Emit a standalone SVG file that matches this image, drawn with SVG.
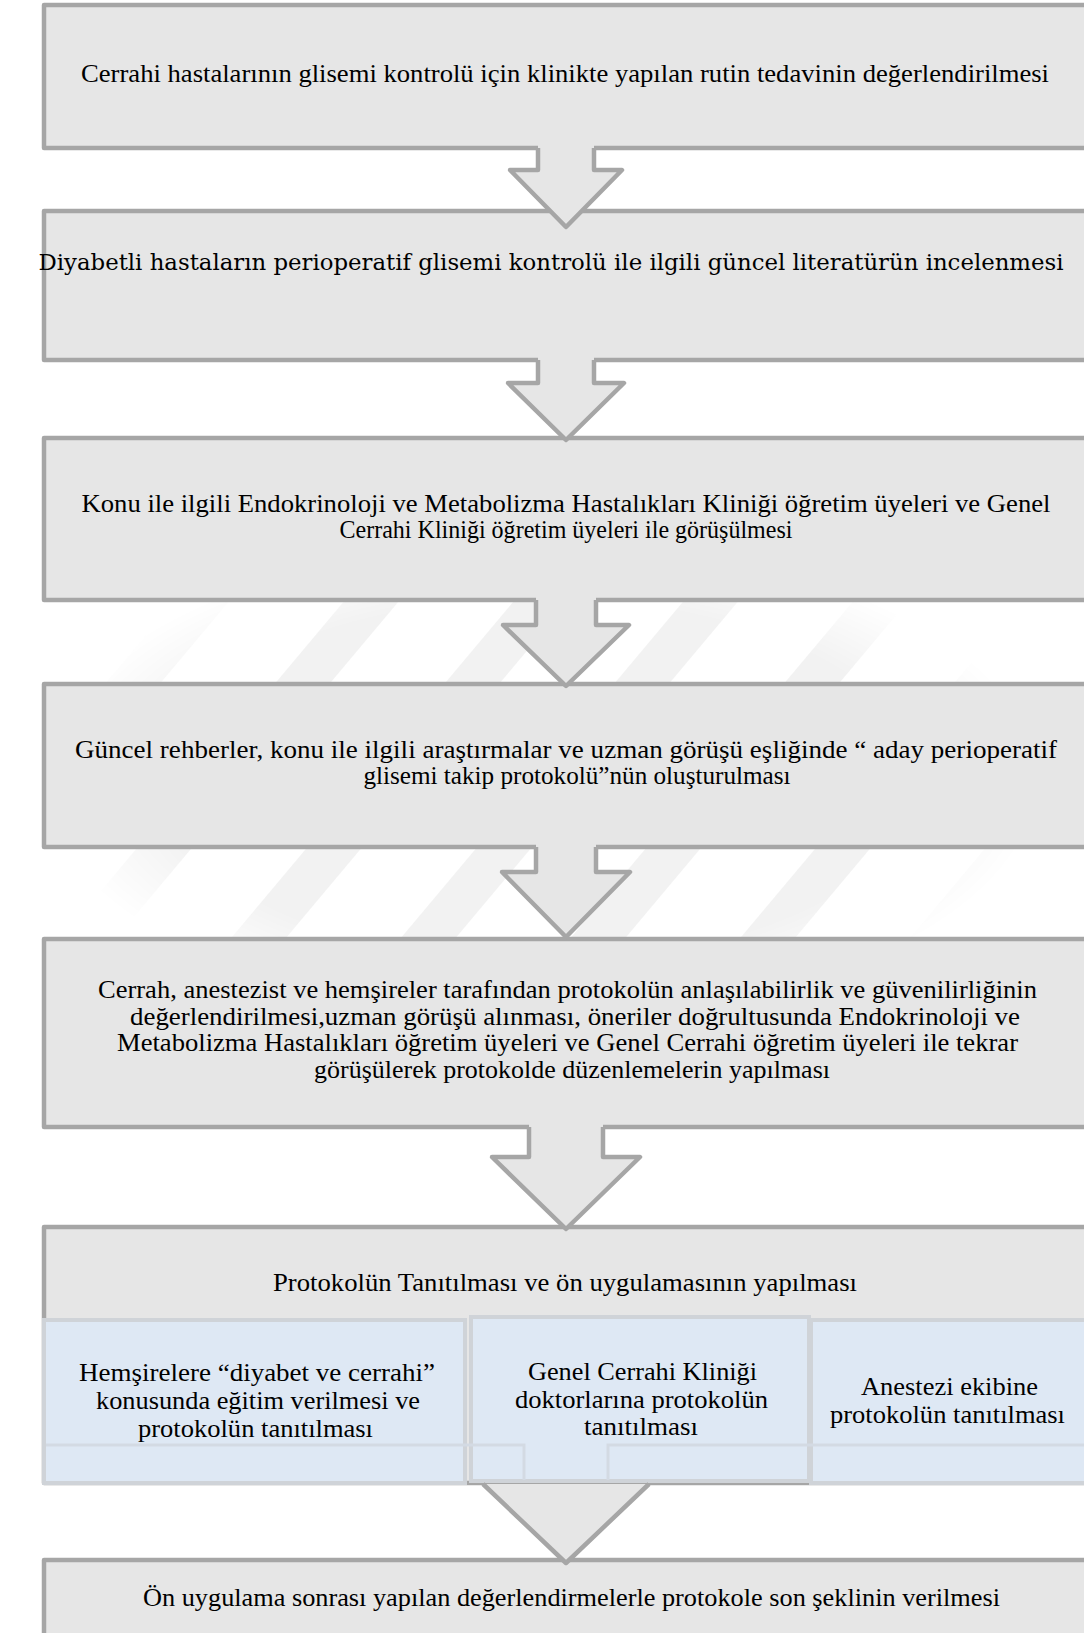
<svg xmlns="http://www.w3.org/2000/svg" width="1084" height="1633" viewBox="0 0 1084 1633">
  <defs>
    <pattern id="wm" patternUnits="userSpaceOnUse" width="130" height="130" patternTransform="rotate(40)">
      <rect x="0" y="0" width="42" height="130" fill="#f2f2f2"/>
    </pattern>
    <radialGradient id="wmfade" cx="0.5" cy="0.5" r="0.5">
      <stop offset="0" stop-color="#fff"/>
      <stop offset="0.75" stop-color="#fff"/>
      <stop offset="1" stop-color="#000"/>
    </radialGradient>
    <mask id="wmmask" maskUnits="userSpaceOnUse" x="40" y="540" width="1000" height="480">
      <rect x="40" y="540" width="1000" height="480" fill="url(#wmfade)"/>
    </mask>
    <style>
      .box { fill:#e6e6e6; stroke:#a6a6a6; stroke-width:4.5; stroke-linejoin:round; }
      .afill { fill:#e6e6e6; stroke:none; }
      .aline { fill:none; stroke:#a6a6a6; stroke-width:4.5; stroke-linejoin:round; }
      .sub { fill:#dee8f4; stroke:#cfd3d8; stroke-width:4; }
      .ghost { fill:none; stroke:#d3dae3; stroke-width:3; }
      .t { font-family:"Liberation Serif","Times New Roman",serif; font-size:24.5px; fill:#000; text-anchor:middle; }
      .ts { font-family:"Liberation Serif","Times New Roman",serif; font-size:25px; fill:#000; text-anchor:middle; }
      .tc { font-family:"DejaVu Serif","Liberation Serif",serif; font-size:21.5px; fill:#000; text-anchor:middle; }
    </style>
  </defs>
  <rect width="1084" height="1633" fill="#ffffff"/>
  <rect x="40" y="540" width="1000" height="480" fill="url(#wm)" mask="url(#wmmask)"/>

  <g id="nodes">
    <g id="node1">
      <rect class="box" x="44" y="5" width="1044" height="143"/>
      <text class="t" x="565" y="82" textLength="968" lengthAdjust="spacingAndGlyphs">Cerrahi hastalarının glisemi kontrolü için klinikte yapılan rutin tedavinin değerlendirilmesi</text>
    </g>
    <g id="node2">
      <rect class="box" x="44" y="211" width="1044" height="149"/>
      <text class="tc" x="551" y="270" textLength="1025" lengthAdjust="spacingAndGlyphs">Diyabetli hastaların perioperatif glisemi kontrolü ile ilgili güncel literatürün incelenmesi</text>
    </g>
    <g id="node3">
      <rect class="box" x="44" y="438" width="1044" height="162"/>
      <text class="t" x="566" y="512" textLength="969" lengthAdjust="spacingAndGlyphs">Konu ile ilgili Endokrinoloji ve Metabolizma Hastalıkları Kliniği öğretim üyeleri ve Genel</text>
      <text class="t" x="566" y="538" textLength="453" lengthAdjust="spacingAndGlyphs">Cerrahi Kliniği öğretim üyeleri ile görüşülmesi</text>
    </g>
    <g id="node4">
      <rect class="box" x="44" y="684" width="1044" height="163"/>
      <text class="t" x="566" y="758" textLength="982" lengthAdjust="spacingAndGlyphs">Güncel rehberler,  konu ile ilgili araştırmalar ve uzman görüşü eşliğinde  “ aday perioperatif</text>
      <text class="t" x="577" y="784" textLength="427" lengthAdjust="spacingAndGlyphs">glisemi takip protokolü”nün oluşturulması</text>
    </g>
    <g id="node5">
      <rect class="box" x="44" y="939" width="1044" height="188"/>
      <text class="t" x="567.5" y="998" textLength="939" lengthAdjust="spacingAndGlyphs">Cerrah, anestezist ve hemşireler tarafından protokolün anlaşılabilirlik ve güvenilirliğinin</text>
      <text class="t" x="575" y="1024.5" textLength="890" lengthAdjust="spacingAndGlyphs">değerlendirilmesi,uzman görüşü alınması, öneriler doğrultusunda Endokrinoloji ve</text>
      <text class="t" x="567.5" y="1051" textLength="901" lengthAdjust="spacingAndGlyphs">Metabolizma Hastalıkları öğretim üyeleri ve Genel Cerrahi öğretim üyeleri ile tekrar</text>
      <text class="t" x="572" y="1077.5" textLength="516" lengthAdjust="spacingAndGlyphs">görüşülerek protokolde düzenlemelerin yapılması</text>
    </g>
    <g id="node6">
      <rect class="box" x="44" y="1227" width="1044" height="256"/>
      <text class="t" x="565" y="1291" textLength="584" lengthAdjust="spacingAndGlyphs">Protokolün Tanıtılması ve ön uygulamasının yapılması</text>
      <g id="node6a">
        <rect class="sub" x="44" y="1320" width="421" height="163"/>
        <text class="ts" x="257" y="1381" textLength="356" lengthAdjust="spacingAndGlyphs">Hemşirelere  “diyabet ve cerrahi”</text>
        <text class="ts" x="258" y="1409" textLength="324" lengthAdjust="spacingAndGlyphs">konusunda eğitim verilmesi ve</text>
        <text class="ts" x="255.5" y="1437" textLength="235" lengthAdjust="spacingAndGlyphs">protokolün tanıtılması</text>
      </g>
      <g id="node6c">
        <rect class="sub" x="811" y="1320" width="290" height="163"/>
        <text class="ts" x="949.5" y="1395" textLength="177" lengthAdjust="spacingAndGlyphs">Anestezi ekibine</text>
        <text class="ts" x="947.5" y="1423" textLength="235" lengthAdjust="spacingAndGlyphs">protokolün tanıtılması</text>
      </g>
      <g id="node6b">
        <rect class="sub" x="471" y="1317" width="338" height="164"/>
        <text class="ts" x="642.5" y="1380" textLength="229" lengthAdjust="spacingAndGlyphs">Genel Cerrahi Kliniği</text>
        <text class="ts" x="641.5" y="1408" textLength="253" lengthAdjust="spacingAndGlyphs">doktorlarına protokolün</text>
        <text class="ts" x="641" y="1435" textLength="114" lengthAdjust="spacingAndGlyphs">tanıtılması</text>
      </g>
      <path class="ghost" d="M46,1445 H524 V1480"/>
      <path class="ghost" d="M608,1480 V1445 H1084"/>
    </g>
    <g id="node7">
      <rect class="box" x="44" y="1560" width="1044" height="90"/>
      <text class="t" x="571.5" y="1606" textLength="857" lengthAdjust="spacingAndGlyphs">Ön uygulama sonrası yapılan değerlendirmelerle protokole son şeklinin verilmesi</text>
    </g>
  </g>

  <g id="connectors">
    <path class="afill" d="M538,145 V170 H510 L566,227 L622,170 H594 V145 Z"/>
    <path class="aline" d="M538,148 V170 H510 L566,227 L622,170 H594 V148"/>
    <path class="afill" d="M538,357 V383 H508 L566,440 L624,383 H594 V357 Z"/>
    <path class="aline" d="M538,360 V383 H508 L566,440 L624,383 H594 V360"/>
    <path class="afill" d="M536,597 V625 H503 L566,686 L629,625 H596 V597 Z"/>
    <path class="aline" d="M536,600 V625 H503 L566,686 L629,625 H596 V600"/>
    <path class="afill" d="M536,844 V872 H502 L566,937 L630,872 H596 V844 Z"/>
    <path class="aline" d="M536,847 V872 H502 L566,937 L630,872 H596 V847"/>
    <path class="afill" d="M529,1124 V1157 H492 L566,1229 L640,1157 H603 V1124 Z"/>
    <path class="aline" d="M529,1127 V1157 H492 L566,1229 L640,1157 H603 V1127"/>
    <path class="afill" d="M483,1484 L566,1563 L649,1484 Z"/>
    <path class="aline" d="M483,1484 L566,1563 L649,1484"/>
  </g>
</svg>
